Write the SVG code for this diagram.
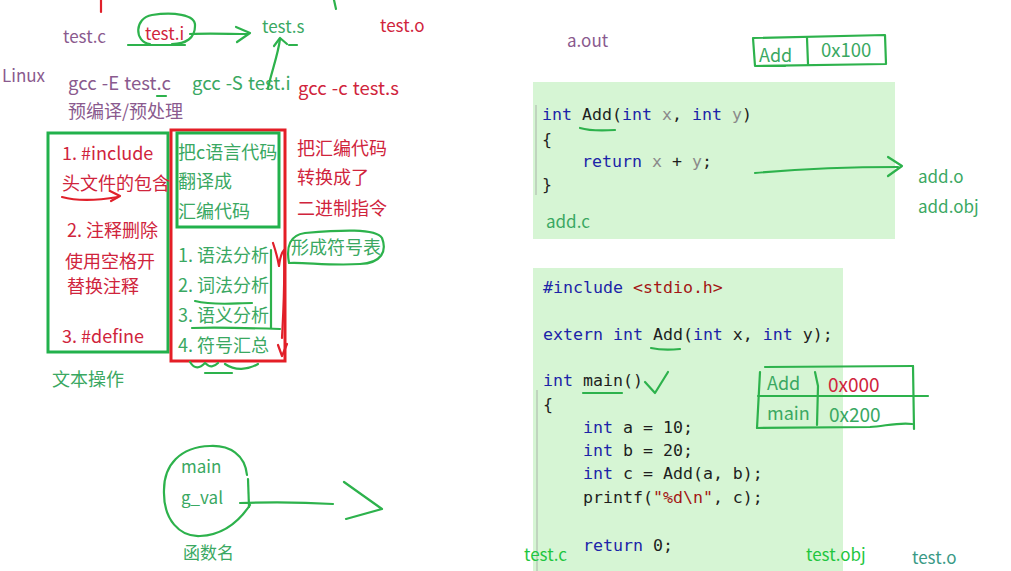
<svg xmlns="http://www.w3.org/2000/svg" width="1011" height="571" viewBox="0 0 1011 571">
<style>
.t{font-family:"Noto Sans CJK SC","Noto Sans",sans-serif;font-size:17px}
.cn{font-size:18px}
.cmd{font-size:18.5px;word-spacing:1px}
.pu{fill:#8a5a8e}
.rd{fill:#d0243c}
.gr{fill:#3aa862}
.bg{fill:#1fc63f}
.code{font-family:"DejaVu Sans Mono","Liberation Mono",monospace;font-size:16.6px;fill:#1e1e1e}
.kw{fill:#1c24a8}
.gy{fill:#8a8a8a}
.st{fill:#a31515}
.hg{fill:none;stroke:#2db24c;stroke-width:2.2;stroke-linecap:round;stroke-linejoin:round}
.hr{fill:none;stroke:#e0202a;stroke-width:2.2;stroke-linecap:round;stroke-linejoin:round}
.box{fill:#d6f5d4}
</style>
<rect width="1011" height="571" fill="#ffffff"/>

<g id="top-ticks">
<path class="hr" d="M101,0 L101,12"/>
<path class="hg" d="M334,0 L336,9"/>
</g>

<g id="files-row">
<text class="t pu" x="63" y="43">test.c</text>
<text class="t rd" x="145" y="40">test.i</text>
<text class="t gr" x="262" y="33">test.s</text>
<text class="t rd" x="380" y="32">test.o</text>
<path class="hg" d="M150,44 C134,42 134,18 152,15 C172,12 196,14 195,26 C195,38 186,44 172,44"/>
<path class="hg" d="M128,45 L185,45"/>
<path class="hg" d="M289,45 L297,45"/>
</g>

<g id="commands">
<text class="t pu" x="2" y="82">Linux</text>
<text class="t cmd pu" x="68" y="90">gcc -E test.c</text>
<path class="hg" d="M157,96 L166,96"/>
<text class="t cmd gr" x="192" y="90">gcc -S test.i</text>
<text class="t cmd rd" x="298" y="95">gcc -c test.s</text>
<text class="t cn pu" x="68" y="118">预编译/预处理</text>
</g>

<g id="preprocess-box">
<rect x="48" y="133" width="120" height="219" fill="none" stroke="#22b14c" stroke-width="3"/>
<text class="t cn rd" x="62" y="160">1. #include</text>
<text class="t cn rd" x="62" y="190">头文件的包含</text>
<text class="t cn rd" x="67" y="237">2. 注释删除</text>
<text class="t cn rd" x="65" y="268">使用空格开</text>
<text class="t cn rd" x="67" y="293">替换注释</text>
<text class="t cn rd" x="62" y="343">3. #define</text>
<text class="t cn gr" x="52" y="386">文本操作</text>
</g>

<g id="compile-box">
<rect x="171" y="130" width="114" height="231" fill="none" stroke="#e41e26" stroke-width="3"/>
<rect x="177" y="133" width="102" height="94" fill="none" stroke="#22b14c" stroke-width="3"/>
<text class="t cn gr" x="178" y="159">把c语言代码</text>
<text class="t cn gr" x="178" y="188">翻译成</text>
<text class="t cn gr" x="178" y="218">汇编代码</text>
<text class="t cn gr" x="178" y="262">1. 语法分析</text>
<text class="t cn gr" x="178" y="292">2. 词法分析</text>
<text class="t cn gr" x="178" y="322">3. 语义分析</text>
<text class="t cn gr" x="178" y="352">4. 符号汇总</text>
<path class="hg" d="M195,301 C215,306 235,303 252,303"/>
<path class="hg" d="M192,328 C220,327 250,328 280,329"/>
<path class="hg" d="M271,250 L271,328"/>
<path class="hr" d="M273,243 C276,252 278,260 279,266 C280,258 282,252 284,250"/>
<path class="hr" d="M284,252 C285,290 283,318 282,338"/>
<path class="hr" d="M278,345 L282,356 L287,344"/>
<path class="hg" d="M190,362 C195,370 200,368 205,363 C210,368 214,367 218,363 M225,364 C235,371 248,370 258,364"/>
<path class="hg" d="M205,373 L232,373"/>
</g>

<g id="assemble-note">
<text class="t cn rd" x="297" y="155">把汇编代码</text>
<text class="t cn rd" x="297" y="184">转换成了</text>
<text class="t cn rd" x="297" y="215">二进制指令</text>
<text class="t cn gr" x="291" y="254">形成符号表</text>
<path class="hg" d="M289,263 C286,246 290,235 305,233 C340,230 376,228 382,238 C387,251 382,263 360,264 C330,266 305,262 289,263"/>
</g>

<g id="symbols-circle">
<path class="hg" d="M247,475 C245,455 230,445 210,446 C180,447 164,465 164,490 C163,520 180,537 200,536 C225,535 240,520 250,505"/>
<text class="t gr" x="181" y="473">main</text>
<text class="t gr" x="181" y="504">g_val</text>
<text class="t gr" x="183" y="559">函数名</text>
</g>

<g id="aout">
<text class="t pu" x="567" y="47">a.out</text>
<path class="hg" d="M753,38 L885,35 L886,64 L755,66 Z"/>
<path class="hg" d="M807,38 L808,64"/>
<text class="t gr" x="759" y="62" style="font-size:18px">Add</text>
<text class="t gr" x="821" y="57" style="font-size:18.5px">0x100</text>
<path class="hg" d="M757,66 L785,66"/>
</g>

<g id="add-c">
<rect class="box" x="533" y="82" width="362" height="157"/>
<path d="M536,105 L536,195" stroke="#b8c8b8" stroke-width="1.5"/>
<text class="code" x="542" y="120"><tspan class="kw">int</tspan> Add(<tspan class="kw">int</tspan> <tspan class="gy">x</tspan>, <tspan class="kw">int</tspan> <tspan class="gy">y</tspan>)</text>
<text class="code" x="542" y="145">{</text>
<text class="code" x="582" y="167"><tspan class="kw">return</tspan> <tspan class="gy">x</tspan> + <tspan class="gy">y</tspan>;</text>
<text class="code" x="542" y="190">}</text>
<path class="hg" d="M580,128 C590,131 600,131 615,130"/>
<text class="t gr" x="546" y="228">add.c</text>
<text class="t gr" x="918" y="183">add.o</text>
<text class="t gr" x="918" y="213">add.obj</text>
</g>

<g id="test-c">
<rect class="box" x="533" y="268" width="310" height="303"/>
<path d="M537,390 L537,571" stroke="#b8c8b8" stroke-width="1.5"/>
<text class="code" x="543" y="293"><tspan class="kw">#include</tspan> <tspan class="st">&lt;stdio.h&gt;</tspan></text>
<text class="code" x="543" y="340"><tspan class="kw">extern</tspan> <tspan class="kw">int</tspan> Add(<tspan class="kw">int</tspan> x, <tspan class="kw">int</tspan> y);</text>
<path class="hg" d="M651,348 C660,350 670,350 680,349"/>
<text class="code" x="543" y="386"><tspan class="kw">int</tspan> main()</text>
<path class="hg" d="M583,393 L622,393"/>
<path class="hg" d="M645,382 L655,393 L668,372"/>
<text class="code" x="543" y="410">{</text>
<text class="code" x="583" y="433"><tspan class="kw">int</tspan> a = 10;</text>
<text class="code" x="583" y="456"><tspan class="kw">int</tspan> b = 20;</text>
<text class="code" x="583" y="479"><tspan class="kw">int</tspan> c = Add(a, b);</text>
<text class="code" x="583" y="503">printf(<tspan class="st">"%d\n"</tspan>, c);</text>
<text class="code" x="583" y="551"><tspan class="kw">return</tspan> 0;</text>
<text class="t bg" x="524" y="561">test.c</text>
<text class="t bg" x="806" y="561">test.obj</text>
<text class="t" x="912" y="564" fill="#3a9a86">test.o</text>
</g>

<g id="symbol-table">
<path class="hg" d="M765,367 L913,366"/>
<path class="hg" d="M760,372 L757,428"/>
<path class="hg" d="M815,372 L818,386 L817,425"/>
<path class="hg" d="M758,396 L928,396"/>
<path class="hg" d="M757,428 L870,427 C885,426 900,422 912,424"/>
<path class="hg" d="M913,366 L914,429"/>
<text class="t gr" x="767" y="390" style="font-size:18px">Add</text>
<text class="t rd" x="828" y="392" style="font-size:19px">0x000</text>
<text class="t gr" x="767" y="420" style="font-size:18px">main</text>
<text class="t gr" x="829" y="422" style="font-size:19px">0x200</text>
</g>

<g id="connectors">
<path class="hg" d="M190,34 C210,33 230,34 248,34"/>
<path class="hg" d="M236,27 L250,33 L237,42"/>
<path class="hg" d="M268,88 C272,70 278,55 280,39"/>
<path class="hg" d="M274,46 L280,38 L287,44"/>
<path class="hr" d="M62,197 C80,202 100,200 118,197"/>
<path class="hr" d="M110,191 L120,196 L111,201"/>
<path class="hg" d="M240,503 C270,502 300,502 333,504"/>
<path class="hg" d="M248,479 L249,507"/>
<path class="hg" d="M344,482 L382,509 L346,519"/>
<path class="hg" d="M755,173 C800,169 860,167 898,167"/>
<path class="hg" d="M888,157 L902,166 L888,176"/>
</g>
</svg>
